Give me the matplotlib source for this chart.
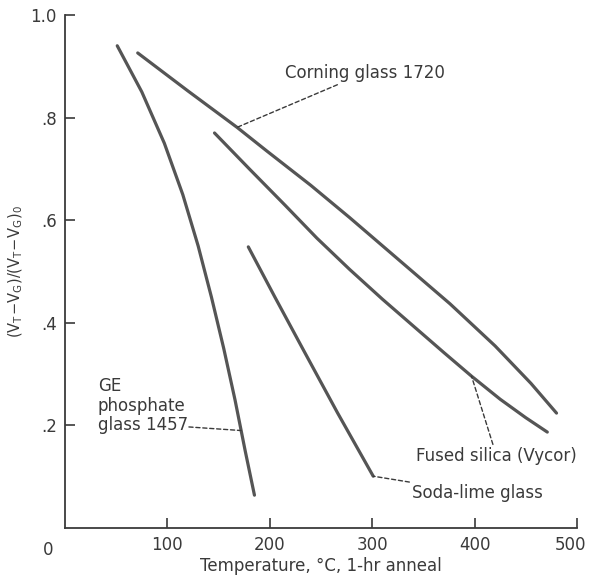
import matplotlib
matplotlib.use("Agg")
import matplotlib.pyplot as plt
from matplotlib.transforms import ScaledTranslation

# Values
ge_temp = [51, 75, 97, 115, 130, 143, 155, 166, 176, 185]
ge_ratio = [0.94, 0.85, 0.75, 0.65, 0.55, 0.45, 0.35, 0.25, 0.15, 0.064]

corning_temp = [71, 120, 168, 197, 240, 278, 327, 376, 420, 455, 480]
corning_ratio = [0.926, 0.852, 0.781, 0.735, 0.668, 0.605, 0.521, 0.437, 0.355, 0.282, 0.224]

vycor_temp = [146, 180, 215, 246, 278, 310, 340, 370, 397, 425, 450, 471]
vycor_ratio = [0.77, 0.70, 0.629, 0.565, 0.504, 0.446, 0.394, 0.342, 0.296, 0.251, 0.215, 0.187]

soda_temp = [179, 205, 232, 266, 301]
soda_ratio = [0.548, 0.45, 0.35, 0.225, 0.101]

x_ticks = [100, 200, 300, 400, 500]
y_ticks = [0.2, 0.4, 0.6, 0.8, 1.0]
y_tick_labels = [".2", ".4", ".6", ".8", "1.0"]

plt.rcParams['font.family'] = ['DejaVu Sans']
ink = '#3a3a3a'
curve = '#555555'

fig = plt.figure(figsize=(5.89, 5.81), dpi=100)
ax = fig.add_axes([0.1104, 0.0912, 0.8692, 0.883])

for t, r in [(ge_temp, ge_ratio), (corning_temp, corning_ratio),
             (vycor_temp, vycor_ratio), (soda_temp, soda_ratio)]:
    ax.plot(t, r, color=curve, lw=2.3, solid_capstyle='round',
            solid_joinstyle='round')

ax.set_xlim(0, 500)
ax.set_ylim(0, 1.0)
ax.spines['top'].set_visible(False)
ax.spines['right'].set_visible(False)
for s in ['left', 'bottom']:
    ax.spines[s].set_color(ink)
    ax.spines[s].set_linewidth(1.3)

ax.set_xticks(x_ticks)
ax.set_yticks(y_ticks)
ax.set_yticklabels(y_tick_labels)
ax.tick_params(direction='in', length=7, width=1.2, color=ink,
               labelcolor=ink, labelsize=12, pad=6)
# last x label sits a bit left so it stays on the canvas
last = ax.get_xticklabels()[-1]
last.set_transform(last.get_transform() + ScaledTranslation(-5 / 72, 0, fig.dpi_scale_trans))

ax.text(-0.022, -0.025, "0", transform=ax.transAxes, ha='right', va='top',
        fontsize=12, color=ink)

ax.set_xlabel("Temperature, °C, 1-hr anneal", fontsize=12, color=ink, labelpad=2)
ax.set_ylabel(r"$(\mathrm{V_T\!-\!V_G})/(\mathrm{V_T\!-\!V_G})_0$", fontsize=10.5,
              color=ink, labelpad=4)

dash = dict(arrowstyle='-', linestyle=(0, (3, 2)), color=ink, lw=1.0,
            shrinkA=0, shrinkB=0)
lbl = dict(fontsize=12, color=ink)

ax.annotate("Corning glass 1720", xy=(168, 0.781), xytext=(215, 0.887),
            ha='left', va='center', arrowprops=dash, **lbl)

ax.text(32, 0.294, "GE\nphosphate\nglass 1457", ha='left', va='top',
        linespacing=1.1, **lbl)
ax.annotate("", xy=(172, 0.19), xytext=(121, 0.197), arrowprops=dash)

ax.annotate("Fused silica (Vycor)", xy=(397, 0.296), xytext=(343, 0.140),
            ha='left', va='center', arrowprops=dash, **lbl)
ax.annotate("Soda-lime glass", xy=(301, 0.101), xytext=(339, 0.068),
            ha='left', va='center', arrowprops=dash, **lbl)

fig.savefig("out.png", dpi=100)
